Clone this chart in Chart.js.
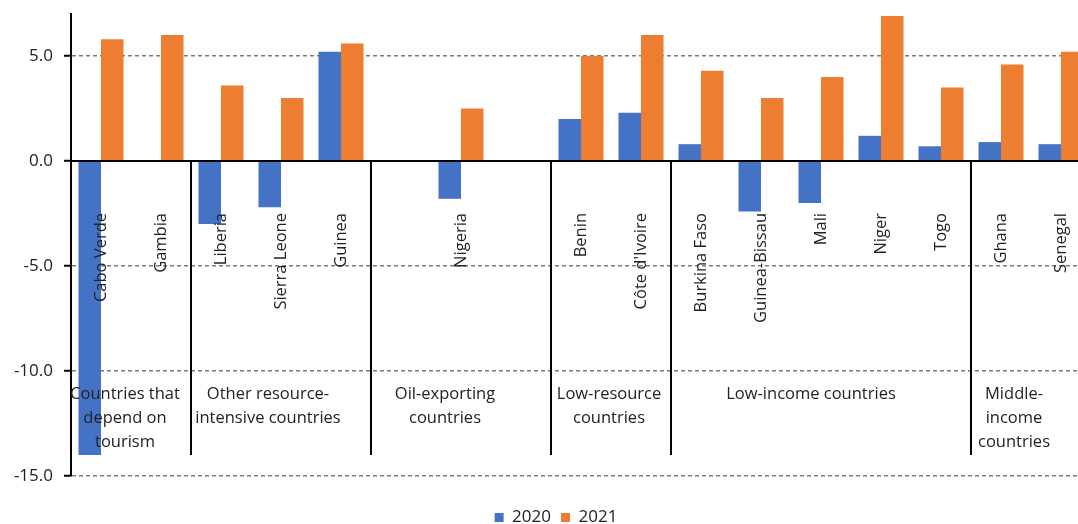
<!DOCTYPE html>
<html>
<head>
<meta charset="utf-8">
<script src="https://cdn.jsdelivr.net/npm/chart.js@4/dist/chart.umd.min.js"></script>
<style>
  html, body { margin: 0; padding: 0; background: #fff; overflow: hidden; width: 1078px; height: 524px; }
  #wrap { position: absolute; left: 0; top: 0; width: 1112px; height: 536px; }
</style>
</head>
<body>
<div id="wrap"><canvas id="c" width="1112" height="536"></canvas></div>
<script>
const categories = ['Cabo Verde', 'Gambia', 'Liberia', 'Sierra Leone', 'Guinea', '', 'Nigeria', '', 'Benin', "Côte d'Ivoire", 'Burkina Faso', 'Guinea-Bissau', 'Mali', 'Niger', 'Togo', 'Ghana', 'Senegal'];
const values2020 = [-14.0, null, -3.0, -2.2, 5.2, null, -1.8, null, 2.0, 2.3, 0.8, -2.4, -2.0, 1.2, 0.7, 0.9, 0.8];
const values2021 = [5.8, 6.0, 3.6, 3.0, 5.6, null, 2.5, null, 5.0, 6.0, 4.3, 3.0, 4.0, 6.9, 3.5, 4.6, 5.2];
const seriesNames = ['2020', '2021'];
const groupSizes = [2, 3, 3, 2, 5, 2];
const groupLabels = [
  ['Countries that', 'depend on', 'tourism'],
  ['Other resource-', 'intensive countries'],
  ['Oil-exporting', 'countries'],
  ['Low-resource', 'countries'],
  ['Low-income countries'],
  ['Middle-', 'income', 'countries']
];
const yTicks = [-15, -10, -5, 0, 5];

const FONT = "'Open Sans', sans-serif";
const TEXT = '#222222';
const groupLabelShift = [-6, -13, -16, -2, -10, -17];

const overlay = {
  id: 'overlay',
  afterLayout(chart) {
    const lg = chart.legend;
    if (lg) { lg.left = 21; lg.right = chart.chartArea.right; }
  },
  afterDatasetsDraw(chart) {
    const ctx = chart.ctx;
    const x = chart.scales.x, y = chart.scales.y;
    const area = chart.chartArea;
    const y0 = y.getPixelForValue(0);
    ctx.save();
    ctx.strokeStyle = '#000';
    ctx.lineWidth = 2;
    ctx.beginPath();
    ctx.moveTo(area.left, y0);
    ctx.lineTo(area.right, y0);
    ctx.stroke();
    const sepBottom = area.bottom - 21;
    let idx = 0;
    const bounds = [area.left];
    groupSizes.forEach((n) => {
      idx += n;
      bounds.push(idx < categories.length
        ? (x.getPixelForValue(idx - 1) + x.getPixelForValue(idx)) / 2
        : area.right);
    });
    for (let i = 1; i < bounds.length - 1; i++) {
      ctx.beginPath();
      ctx.moveTo(bounds[i], y0);
      ctx.lineTo(bounds[i], sepBottom);
      ctx.stroke();
    }
    ctx.fillStyle = TEXT;
    ctx.font = '16.5px ' + FONT;
    const labTop = y0 + 52;
    categories.forEach((c, i) => {
      if (!c) return;
      const px = x.getPixelForValue(i);
      ctx.save();
      ctx.translate(px, labTop);
      ctx.rotate(-Math.PI / 2);
      ctx.textAlign = 'right';
      ctx.textBaseline = 'middle';
      ctx.fillText(c, 0, 0);
      ctx.restore();
    });
    ctx.textAlign = 'center';
    ctx.textBaseline = 'middle';
    groupLabels.forEach((lines, g) => {
      const cx = (bounds[g] + bounds[g + 1]) / 2 + groupLabelShift[g];
      lines.forEach((ln, k) => {
        ctx.fillText(ln, cx, area.bottom - 82 + k * 24);
      });
    });
    ctx.restore();
  }
};

new Chart(document.getElementById('c'), {
  type: 'bar',
  data: {
    labels: categories,
    datasets: [
      { label: seriesNames[0], data: values2020, backgroundColor: '#4472C4', borderWidth: 0 },
      { label: seriesNames[1], data: values2021, backgroundColor: '#ED7D31', borderWidth: 0 }
    ]
  },
  options: {
    responsive: false,
    devicePixelRatio: 1,
    animation: false,
    layout: { padding: { left: 0, right: 21, top: 14, bottom: 0 } },
    datasets: { bar: { barPercentage: 1.0, categoryPercentage: 0.75 } },
    plugins: {
      legend: {
        display: true,
        position: 'bottom',
        labels: {
          font: { family: FONT, size: 17 },
          color: TEXT,
          boxWidth: 9,
          boxHeight: 9,
          padding: 10
        }
      },
      tooltip: { enabled: false }
    },
    scales: {
      x: {
        type: 'category',
        display: true,
        grid: { display: false },
        ticks: { display: false },
        border: { display: false },
        afterFit(s) { s.height = 23; s.paddingLeft = 0; s.paddingRight = 0; }
      },
      y: {
        min: -15,
        max: 7,
        afterBuildTicks(s) { s.ticks = yTicks.map(v => ({ value: v })); },
        afterFit(s) { s.width = 71; s.paddingTop = 0; s.paddingBottom = 0; },
        ticks: {
          font: { family: FONT, size: 17 },
          color: TEXT,
          padding: 11,
          callback: (v) => Number(v).toFixed(1)
        },
        grid: {
          color: (c) => (c.tick && c.tick.value === 0) ? 'rgba(0,0,0,0)' : '#7a7a7a',
          lineWidth: 1.5,
          tickColor: '#000',
          tickLength: 7,
          tickWidth: 2
        },
        border: { display: true, color: '#000', width: 2, dash: [4, 3] }
      }
    }
  },
  plugins: [overlay]
});
</script>
</body>
</html>
